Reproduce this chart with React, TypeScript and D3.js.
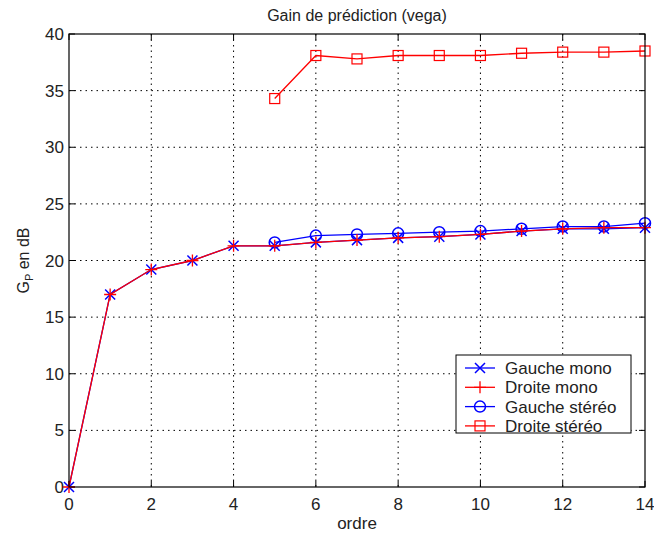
import React from "react";
import * as d3 from "d3";

const ordre = [0, 1, 2, 3, 4, 5, 6, 7, 8, 9, 10, 11, 12, 13, 14];
const ordreStereo = [5, 6, 7, 8, 9, 10, 11, 12, 13, 14];
const gaucheMono = [0, 17.0, 19.2, 20.0, 21.3, 21.3, 21.6, 21.8, 22.0, 22.1, 22.3, 22.6, 22.8, 22.8, 22.9];
const droiteMono = [0, 17.0, 19.2, 20.0, 21.3, 21.3, 21.6, 21.8, 22.0, 22.1, 22.3, 22.6, 22.8, 22.9, 22.9];
const gaucheStereo = [21.6, 22.2, 22.3, 22.4, 22.5, 22.6, 22.8, 23.0, 23.0, 23.3];
const droiteStereo = [34.3, 38.1, 37.8, 38.1, 38.1, 38.1, 38.3, 38.4, 38.4, 38.5];
const xTicks = [0, 2, 4, 6, 8, 10, 12, 14];
const yTicks = [0, 5, 10, 15, 20, 25, 30, 35, 40];
const legendLabels = ["Gauche mono", "Droite mono", "Gauche stéréo", "Droite stéréo"];

const W = 654, H = 533;
const L = 69, R = 645, T = 34, B = 487;
const BLUE = "#0000ff";
const RED = "#ff0000";
const FONT = "Liberation Sans, Arial, sans-serif";

type Marker = "x" | "+" | "o" | "s";

function MarkerShape({ m, cx, cy, color }: { m: Marker; cx: number; cy: number; color: string }) {
  const s = 5;
  if (m === "x")
    return (
      <path d={`M${cx - s},${cy - s}L${cx + s},${cy + s}M${cx - s},${cy + s}L${cx + s},${cy - s}`} stroke={color} strokeWidth={1.5} fill="none" />
    );
  if (m === "+")
    return (
      <path d={`M${cx - 6},${cy}L${cx + 6},${cy}M${cx},${cy - 6}L${cx},${cy + 6}`} stroke={color} strokeWidth={1.3} fill="none" />
    );
  if (m === "o") return <circle cx={cx} cy={cy} r={5.5} stroke={color} strokeWidth={1.5} fill="none" />;
  return <rect x={cx - 5} y={cy - 5} width={10} height={10} stroke={color} strokeWidth={1.2} fill="none" />;
}

export default function App() {
  const x = d3.scaleLinear().domain([0, 14]).range([L, R]);
  const y = d3.scaleLinear().domain([0, 40]).range([B, T]);
  const line = d3
    .line<[number, number]>()
    .x((d) => x(d[0]))
    .y((d) => y(d[1]));

  const series: { xs: number[]; ys: number[]; color: string; m: Marker }[] = [
    { xs: ordreStereo, ys: gaucheStereo, color: BLUE, m: "o" },
    { xs: ordreStereo, ys: droiteStereo, color: RED, m: "s" },
    { xs: ordre, ys: gaucheMono, color: BLUE, m: "x" },
    { xs: ordre, ys: droiteMono, color: RED, m: "+" },
  ];
  const legendOrder: { color: string; m: Marker }[] = [
    { color: BLUE, m: "x" },
    { color: RED, m: "+" },
    { color: BLUE, m: "o" },
    { color: RED, m: "s" },
  ];

  const lgX = 456, lgY = 355, lgW = 175, lgH = 78;

  return (
    <svg width={W} height={H} style={{ position: "absolute", left: 0, top: 0, background: "#fff" }} fontFamily={FONT}>
      <rect x={0} y={0} width={W} height={H} fill="#fff" />
      {/* grid */}
      {xTicks.slice(1, -1).map((t) => (
        <line key={"gx" + t} x1={x(t)} x2={x(t)} y1={T} y2={B} stroke="#000" strokeWidth={1} strokeDasharray="1.5,4" />
      ))}
      {yTicks.slice(1, -1).map((t) => (
        <line key={"gy" + t} x1={L} x2={R} y1={y(t)} y2={y(t)} stroke="#000" strokeWidth={1} strokeDasharray="1.5,4" />
      ))}
      {/* ticks */}
      {xTicks.map((t) => (
        <g key={"tx" + t}>
          <line x1={x(t)} x2={x(t)} y1={B} y2={B - 6} stroke="#000" />
          <line x1={x(t)} x2={x(t)} y1={T} y2={T + 6} stroke="#000" />
          <text x={x(t)} y={510} fontSize={17} textAnchor="middle" fill="#222">
            {t}
          </text>
        </g>
      ))}
      {yTicks.map((t) => (
        <g key={"ty" + t}>
          <line x1={L} x2={L + 6} y1={y(t)} y2={y(t)} stroke="#000" />
          <line x1={R} x2={R - 6} y1={y(t)} y2={y(t)} stroke="#000" />
          <text x={L - 5} y={y(t) + 6} fontSize={17} textAnchor="end" fill="#222">
            {t}
          </text>
        </g>
      ))}
      {/* series */}
      {series.map((s, i) => {
        const pts: [number, number][] = s.xs.map((xv, j) => [xv, s.ys[j]]);
        return (
          <g key={"s" + i}>
            <path d={line(pts) || ""} stroke={s.color} strokeWidth={1.3} fill="none" />
            {pts.map((p, j) => (
              <MarkerShape key={j} m={s.m} cx={x(p[0])} cy={y(p[1])} color={s.color} />
            ))}
          </g>
        );
      })}
      {/* frame */}
      <rect x={L} y={T} width={R - L} height={B - T} fill="none" stroke="#000" strokeWidth={1.2} />
      {/* legend */}
      <rect x={lgX} y={lgY} width={lgW} height={lgH} fill="#fff" stroke="#000" strokeWidth={1} />
      {legendLabels.map((lab, i) => {
        const cy = lgY + 13 + i * 19.3;
        const lo = legendOrder[i];
        return (
          <g key={"lg" + i}>
            <line x1={lgX + 9} x2={lgX + 39} y1={cy} y2={cy} stroke={lo.color} strokeWidth={1.3} />
            <MarkerShape m={lo.m} cx={lgX + 24} cy={cy} color={lo.color} />
            <text x={lgX + 49} y={cy + 6} fontSize={17} fill="#222">
              {lab}
            </text>
          </g>
        );
      })}
      {/* titles */}
      <text x={(L + R) / 2} y={21} fontSize={16} textAnchor="middle" fill="#222">
        Gain de prédiction (vega)
      </text>
      <text x={(L + R) / 2} y={529} fontSize={17} textAnchor="middle" fill="#222">
        ordre
      </text>
      <text transform={`translate(29,${(T + B) / 2}) rotate(-90)`} fontSize={16} textAnchor="middle" fill="#222">
        G<tspan fontSize={11} dy={4}>P</tspan>
        <tspan dy={-4}> en dB</tspan>
      </text>
    </svg>
  );
}
